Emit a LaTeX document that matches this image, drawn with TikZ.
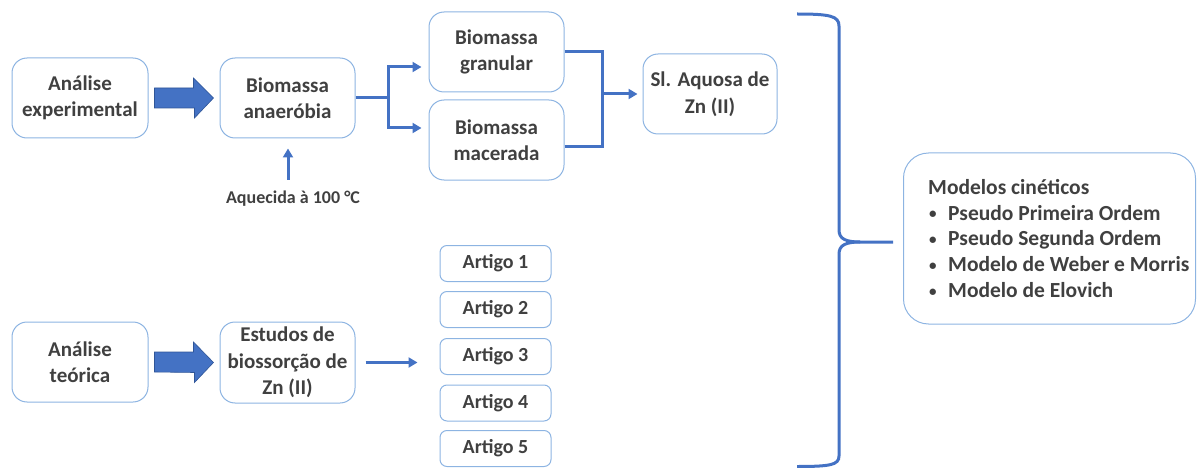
\documentclass[tikz,border=0pt]{standalone}
\usepackage{fontspec}
\setmainfont{Carlito}
\usetikzlibrary{arrows.meta}
\definecolor{arrowblue}{HTML}{4472C4}
\definecolor{arrowedge}{HTML}{2F5597}
\definecolor{boxblue}{HTML}{8DB4E2}
\definecolor{txt}{HTML}{404040}
\newcommand{\bul}{\makebox[20pt][l]{\hspace{1pt}\raisebox{0.15ex}{\scalebox{0.7}{\textbullet}}}}
\begin{document}
\begin{tikzpicture}[x=1pt,y=-1pt,
  box/.style={draw=boxblue,line width=1pt,rounded corners=15pt,fill=white,
    minimum width=#1,minimum height=80pt,inner sep=0pt,align=center,
    text=txt,font=\fontsize{21}{26.5}\selectfont\bfseries},
  box/.default=135pt,
  art/.style={draw=boxblue,line width=1pt,rounded corners=7pt,
    minimum width=111pt,minimum height=36pt,inner sep=0pt,
    text=txt,font=\fontsize{20}{22}\selectfont\bfseries},
  conn/.style={draw=arrowblue,line width=3pt},
  tip/.style={-{Triangle[length=9pt,width=10pt]}},
  bigarrow/.style={fill=arrowblue,draw=arrowedge,line width=0.6pt}
]
\useasboundingbox (0,0) rectangle (1197,468);
% nodes
\node[box=136pt] (ae) at (80,98) {Análise\\experimental};
\node[box] (ba) at (287.5,98) {Biomassa\\anaeróbia};
\node[box] (bg) at (496.5,52) {Biomassa\\granular};
\node[box] (bm) at (496.5,140) {Biomassa\\macerada};
\node[box=134pt] (sl) at (710,94) {Sl. Aquosa de\\Zn (II)};
\node[text=txt,font=\fontsize{18}{20}\selectfont\bfseries] (lbl) at (293,199) {Aquecida à 100 °C};
\node[box=136pt] (at) at (80,362) {Análise\\teórica};
\node[box,minimum height=81pt] (es) at (287.5,362.5) {Estudos de\\biossorção de\\Zn (II)};
\node[art] (a1) at (495.5,263.5) {Artigo 1};
\node[art] (a2) at (495.5,309.5) {Artigo 2};
\node[art] (a3) at (495.5,356.5) {Artigo 3};
\node[art] (a4) at (495.5,403) {Artigo 4};
\node[art] (a5) at (495.5,448.5) {Artigo 5};
\node[draw=boxblue,line width=1pt,rounded corners=25pt,minimum width=292pt,minimum height=171pt,inner sep=0pt] (mc) at (1049.5,238.5) {};
\node[anchor=west,align=left,text=txt,inner sep=0pt,font=\fontsize{21.5}{25.8}\selectfont\bfseries] (mct) at (928,238.5)
 {Modelos cinéticos\\
  \bul Pseudo Primeira Ordem\\
  \bul Pseudo Segunda Ordem\\
  \bul Modelo de Weber e Morris\\
  \bul Modelo de Elovich};
% big block arrows
\draw[bigarrow] ([xshift=6pt,yshift=10pt]ae.east) -- ++(39,0) -- ++(0,-10) -- ([xshift=-6pt]ba.west) -- ([xshift=-25pt,yshift=-20pt]ba.west) -- ++(0,-10) -- ([xshift=6pt,yshift=-10pt]ae.east) -- cycle;
\draw[bigarrow] ([xshift=6pt,yshift=10pt]at.east) -- ++(39,0) -- ++(0,-10) -- ([xshift=-6pt]es.west) -- ([xshift=-25pt,yshift=-20pt]es.west) -- ++(0,-10) -- ([xshift=6pt,yshift=-10pt]at.east) -- cycle;
% branch
\coordinate (j1) at (388,98);
\draw[conn] (ba.east) -- (j1);
\draw[conn,tip,shorten >=7pt] (j1) |- ([yshift=-15pt]bg.west);
\draw[conn,tip,shorten >=7pt] (j1) |- ([yshift=12pt]bm.west);
% merge
\coordinate (j2) at (602,94);
\draw[conn] (bg.east) -| (j2);
\draw[conn] ([yshift=-7pt]bm.east) -| (j2);
\draw[conn,tip,shorten >=5pt] (j2) -- (sl.west);
% heating arrow
\draw[conn,tip,shorten >=10pt] ([xshift=-5pt,yshift=8pt]lbl.north) -- ([xshift=0.5pt]ba.south);
% small arrow
\draw[conn,tip,shorten <=10pt,shorten >=22pt] (es.east) -- (es.east -| a3.west);
% brace
\coordinate (bt) at (893,242);
\draw[conn] (797,14) .. controls (830,14) and (839,16) .. (839,26) -- (839,230)
  .. controls (839,239) and (846,242) .. (860,242) -- (bt);
\draw[conn] (860,242) .. controls (846,242) and (839,245) .. (839,254) -- (839,456)
  .. controls (839,465) and (830,466.5) .. (797,466.5);
\end{tikzpicture}
\end{document}
